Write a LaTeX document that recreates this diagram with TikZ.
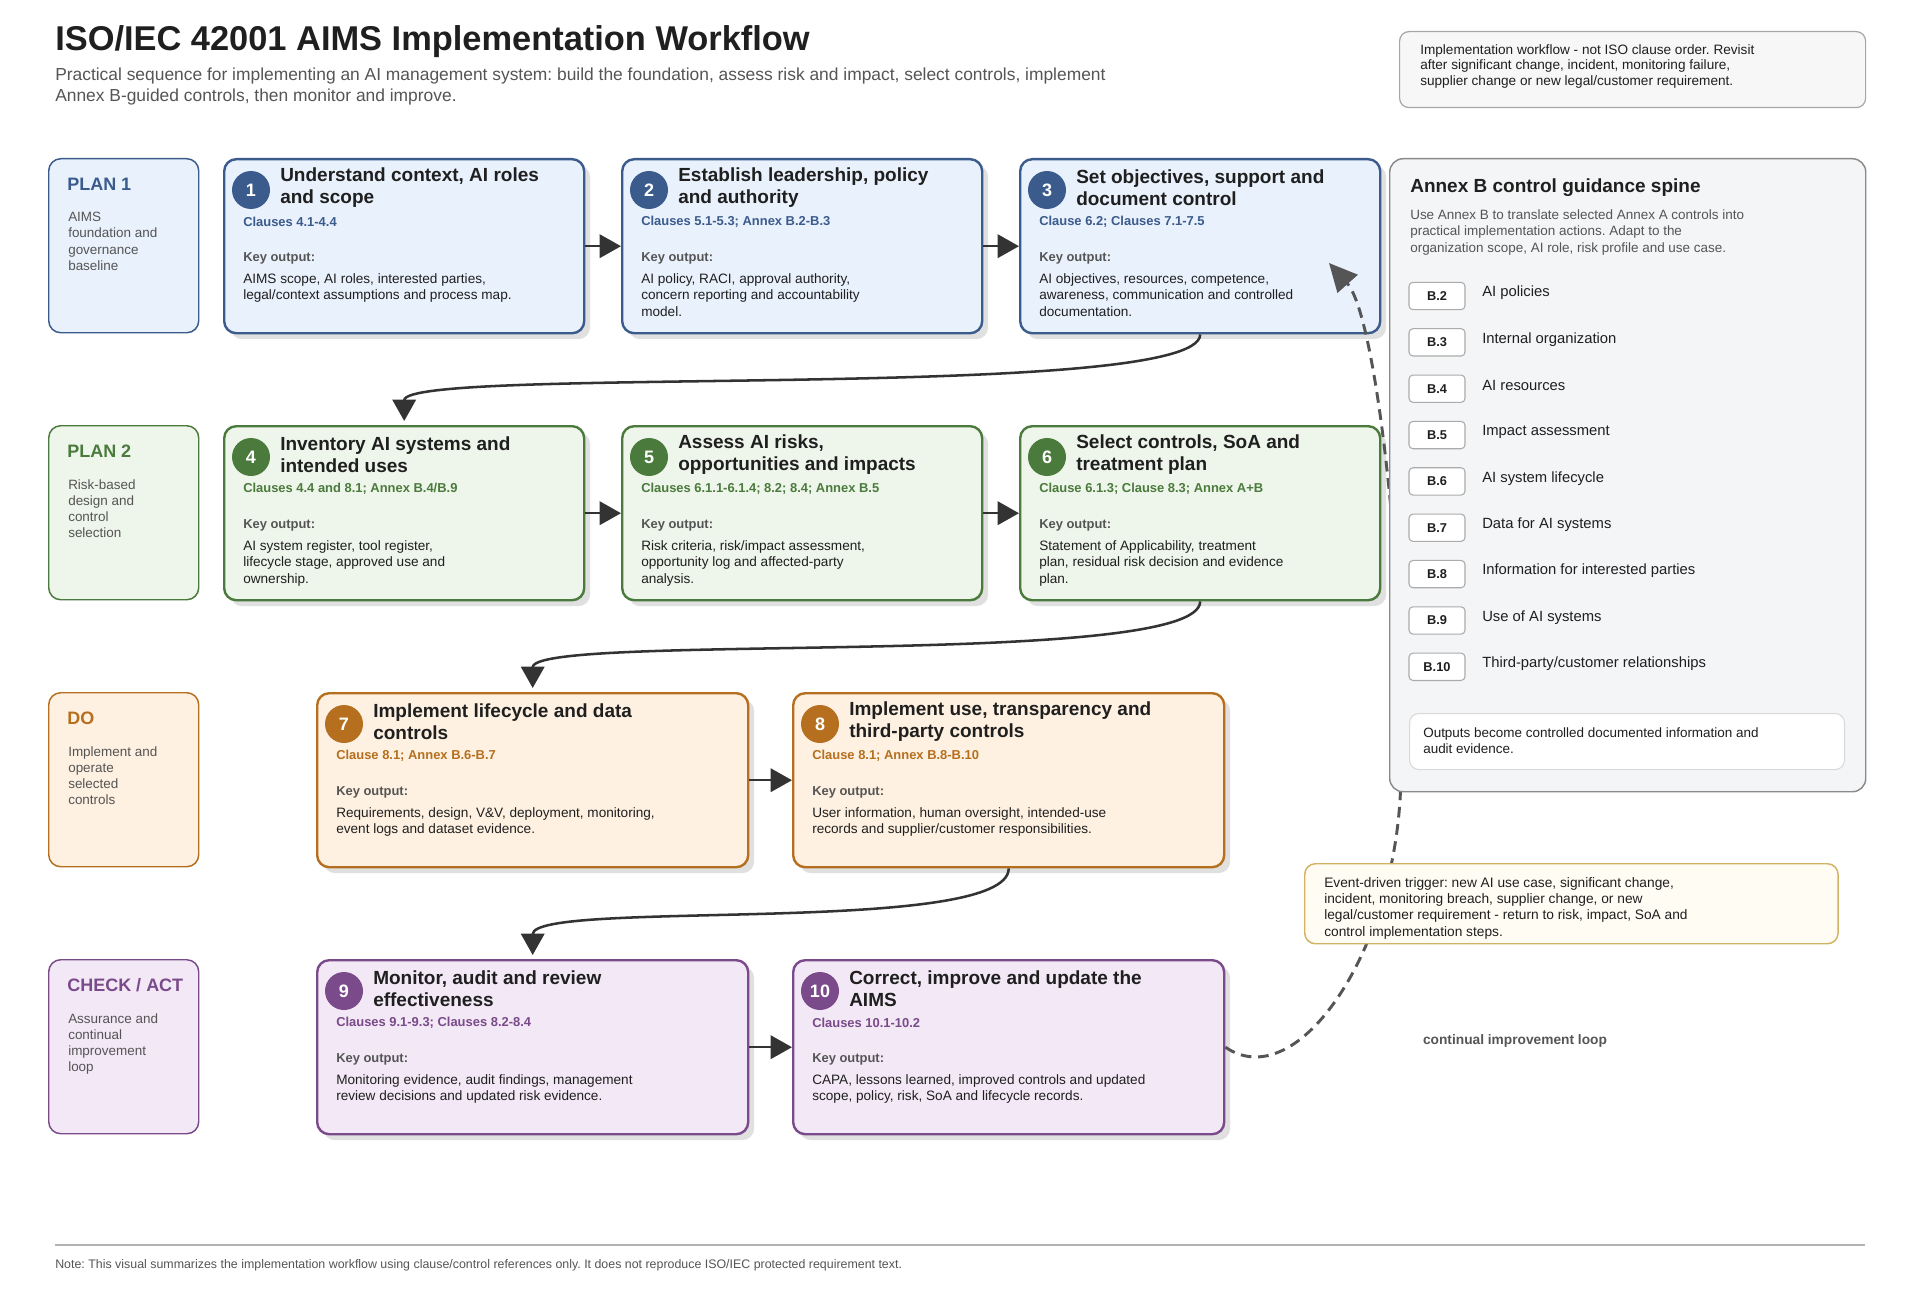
\documentclass[tikz,border=0pt]{standalone}
\usepackage{fontspec}
\setmainfont{Liberation Sans}
\frenchspacing
\usetikzlibrary{arrows.meta,calc,shadows}
\definecolor{bluedk}{HTML}{3B5B8C}
\definecolor{bluefill}{HTML}{E9F1FD}
\definecolor{greendk}{HTML}{4B7B3C}
\definecolor{greenfill}{HTML}{EEF5EA}
\definecolor{orangedk}{HTML}{B56F1F}
\definecolor{orangefill}{HTML}{FEF1E1}
\definecolor{purpledk}{HTML}{7A4A8A}
\definecolor{purplefill}{HTML}{F3E8F6}
\definecolor{ink}{HTML}{1F1F1F}
\definecolor{subc}{HTML}{555555}
\definecolor{arrowc}{HTML}{333333}
\definecolor{panelfill}{HTML}{F4F5F7}
\definecolor{panelline}{HTML}{8A8A8A}
\definecolor{evfill}{HTML}{FFFCF3}
\definecolor{evline}{HTML}{D2B364}
\tikzset{
  sbox/.style={rounded corners=9pt, line width=1.8pt, minimum height=130.5pt, inner sep=0pt,
    drop shadow={shadow xshift=4.5pt, shadow yshift=-4.5pt, fill=black!12, opacity=1}},
  pbox/.style={rounded corners=9pt, line width=1.1pt, minimum width=112.5pt, minimum height=130.5pt, anchor=north west, inner sep=0pt},
  numc/.style={circle, minimum size=28.5pt, inner sep=0pt, text=white, font=\bfseries\fontsize{13.5}{14}\selectfont},
  stitle/.style={inner sep=0pt, align=left, text=ink, font=\bfseries\fontsize{14.25}{16.5}\selectfont},
  sclause/.style={inner sep=0pt, font=\bfseries\fontsize{9.7}{11}\selectfont},
  skey/.style={inner sep=0pt, text=subc, font=\bfseries\fontsize{9.7}{11}\selectfont},
  sbody/.style={inner sep=0pt, align=left, text=ink, font=\fontsize{10.2}{12.4}\selectfont},
  ptitle/.style={inner sep=0pt, font=\bfseries\fontsize{13.5}{15}\selectfont},
  pdesc/.style={inner sep=0pt, align=left, text=subc, font=\fontsize{10.1}{12.2}\selectfont},
  flow/.style={draw=arrowc, line width=1.9pt, -{Triangle[length=16pt,width=17.5pt]}},
  loopline/.style={draw=subc, line width=2.2pt, dash pattern=on 8pt off 5pt, -{Triangle[length=21pt,width=20pt]}},
  badge/.style={draw=black!33, fill=white, rounded corners=3pt, line width=0.8pt, minimum width=42pt, minimum height=20.5pt, inner sep=0pt, font=\bfseries\fontsize{9.6}{11}\selectfont, text=ink},
  blabel/.style={inner sep=0pt, anchor=west, text=ink, font=\fontsize{11.1}{13}\selectfont},
  plain/.style={inner sep=0pt, align=left, anchor=north west},
}
% name, x, y, width, colour, number, title, clause, output
\newcommand\StepBox[9]{%
  \node[sbox, draw=#5dk, fill=#5fill, minimum width=#4*0.75pt, anchor=north west] (#1) at (#2,#3) {};
  \node[numc, fill=#5dk] (#1n) at ($(#1.north west)+(28,32)$) {#6};
  \node[stitle, anchor=west] (#1t) at ($(#1.north west)+(57,30)$) {#7};
  \node[sclause, text=#5dk, anchor=west] (#1c) at ($(#1.north west)+(20,63.5)$) {#8};
  \node[skey, anchor=west] (#1k) at ($(#1.north west)+(20,100)$) {Key output:};
  \node[sbody, anchor=north west] (#1o) at ($(#1.north west)+(20,115)$) {#9};
}
% name, y, colour, title, desc
\newcommand\PhaseBox[5]{%
  \node[pbox, draw=#3dk, fill=#3fill] (#1) at (48,#2) {};
  \node[ptitle, text=#3dk, anchor=west] (#1t) at ($(#1.north west)+(19,26.5)$) {#4};
  \node[pdesc, anchor=north west] (#1d) at ($(#1.north west)+(20,54)$) {#5};
}
\begin{document}
\begin{tikzpicture}[x=0.75pt, y=-0.75pt]
\useasboundingbox (0,0) rectangle (1920,1302);
\fill[white] (0,0) rectangle (1920,1302);

% header
\node[anchor=base west, inner sep=0pt, text=ink, font=\bfseries\fontsize{25.8}{30}\selectfont] (title) at (55,51) {ISO/IEC 42001 AIMS Implementation Workflow};
\node[plain, text=subc, font=\fontsize{13.05}{15.75}\selectfont] (subtitle) at (55,67.5) {Practical sequence for implementing an AI management system: build the foundation, assess risk and impact, select controls, implement\\Annex B-guided controls, then monitor and improve.};

\node[draw=black!35, fill=black!3, rounded corners=7pt, line width=0.9pt, minimum width=349.5pt, minimum height=57pt, anchor=north west, inner sep=0pt] (note) at (1399,31) {};
\node[plain, text=ink, font=\fontsize{10.2}{11.6}\selectfont] (notetxt) at (1420,44) {Implementation workflow - not ISO clause order. Revisit\\after significant change, incident, monitoring failure,\\supplier change or new legal/customer requirement.};

% phase boxes
\PhaseBox{p1}{158}{blue}{PLAN 1}{AIMS\\foundation and\\governance\\baseline}
\PhaseBox{p2}{425}{green}{PLAN 2}{Risk-based\\design and\\control\\selection}
\PhaseBox{p3}{692}{orange}{DO}{Implement and\\operate\\selected\\controls}
\PhaseBox{p4}{959}{purple}{CHECK / ACT}{Assurance and\\continual\\improvement\\loop}

% step boxes
\StepBox{s1}{223}{158}{360}{blue}{1}{Understand context, AI roles\\and scope}{Clauses 4.1-4.4}{AIMS scope, AI roles, interested parties,\\legal/context assumptions and process map.}
\StepBox{s2}{621}{158}{360}{blue}{2}{Establish leadership, policy\\and authority}{Clauses 5.1-5.3; Annex B.2-B.3}{AI policy, RACI, approval authority,\\concern reporting and accountability\\model.}
\StepBox{s3}{1019}{158}{360}{blue}{3}{Set objectives, support and\\document control}{Clause 6.2; Clauses 7.1-7.5}{AI objectives, resources, competence,\\awareness, communication and controlled\\documentation.}
\StepBox{s4}{223}{425}{360}{green}{4}{Inventory AI systems and\\intended uses}{Clauses 4.4 and 8.1; Annex B.4/B.9}{AI system register, tool register,\\lifecycle stage, approved use and\\ownership.}
\StepBox{s5}{621}{425}{360}{green}{5}{Assess AI risks,\\opportunities and impacts}{Clauses 6.1.1-6.1.4; 8.2; 8.4; Annex B.5}{Risk criteria, risk/impact assessment,\\opportunity log and affected-party\\analysis.}
\StepBox{s6}{1019}{425}{360}{green}{6}{Select controls, SoA and\\treatment plan}{Clause 6.1.3; Clause 8.3; Annex A+B}{Statement of Applicability, treatment\\plan, residual risk decision and evidence\\plan.}
\StepBox{s7}{316}{692}{431}{orange}{7}{Implement lifecycle and data\\controls}{Clause 8.1; Annex B.6-B.7}{Requirements, design, V\&V, deployment, monitoring,\\event logs and dataset evidence.}
\StepBox{s8}{792}{692}{431}{orange}{8}{Implement use, transparency and\\third-party controls}{Clause 8.1; Annex B.8-B.10}{User information, human oversight, intended-use\\records and supplier/customer responsibilities.}
\StepBox{s9}{316}{959}{431}{purple}{9}{Monitor, audit and review\\effectiveness}{Clauses 9.1-9.3; Clauses 8.2-8.4}{Monitoring evidence, audit findings, management\\review decisions and updated risk evidence.}
\StepBox{s10}{792}{959}{431}{purple}{10}{Correct, improve and update the\\AIMS}{Clauses 10.1-10.2}{CAPA, lessons learned, improved controls and updated\\scope, policy, risk, SoA and lifecycle records.}

% connectors
\draw[flow] (s1) -- (s2);
\draw[flow] (s2) -- (s3);
\draw[flow] (s4) -- (s5);
\draw[flow] (s5) -- (s6);
\draw[flow] (s7) -- (s8);
\draw[flow] (s9) -- (s10);
\draw[flow, shorten >=3pt] (s3.south) .. controls +(0,68) and +(0,-60) .. (s4.north);
\draw[flow, shorten >=3pt] (s6.south) .. controls +(0,68) and +(0,-60) .. (s7.north);
\draw[flow, shorten >=3pt] (s8.south) .. controls +(0,68) and +(0,-60) .. (s9.north);

% improvement loop
\coordinate (looptip) at (1329,263);
\coordinate (loopmid) at (1400,800);
\draw[loopline] (s10.east) .. controls (1295,1095) and (1390,960) .. (loopmid) .. controls (1410,640) and (1380,320) .. (looptip);

% annex panel
\node[draw=panelline, fill=panelfill, rounded corners=10pt, line width=1.1pt, minimum width=357pt, minimum height=474.75pt, anchor=north west, inner sep=0pt] (panel) at (1389,158) {};
\node[anchor=west, inner sep=0pt, text=ink, font=\bfseries\fontsize{14.25}{16}\selectfont] (ptitle) at (1410,187.5) {Annex B control guidance spine};
\node[plain, text=subc, font=\fontsize{10.1}{12.4}\selectfont] (pdesc) at (1410,209) {Use Annex B to translate selected Annex A controls into\\practical implementation actions. Adapt to the\\organization scope, AI role, risk profile and use case.};
\foreach \b/\lab [count=\i from 0] in {2/{AI policies},3/{Internal organization},4/{AI resources},5/{Impact assessment},6/{AI system lifecycle},7/{Data for AI systems},8/{Information for interested parties},9/{Use of AI systems},10/{Third-party/customer relationships}}{
  \node[badge] (b\b) at (1437,{296+46.35*\i}) {B.\b};
  \node[blabel] (bl\b) at (1482,{293+46.35*\i}) {\lab};
}
\node[draw=black!15, fill=white, rounded corners=7pt, line width=0.8pt, minimum width=326.25pt, minimum height=42pt, anchor=north west, inner sep=0pt] (obox) at (1409,713) {};
\node[plain, text=ink, font=\fontsize{10.1}{12.4}\selectfont] (oboxtxt) at (1423,727) {Outputs become controlled documented information and\\audit evidence.};

% event trigger
\node[draw=evline, fill=evfill, rounded corners=8pt, line width=1.1pt, minimum width=400pt, minimum height=60pt, anchor=north west, inner sep=0pt] (event) at (1304,863) {};
\node[plain, text=ink, font=\fontsize{10.3}{12.2}\selectfont] (eventtxt) at (1324,877) {Event-driven trigger: new AI use case, significant change,\\incident, monitoring breach, supplier change, or new\\legal/customer requirement - return to risk, impact, SoA and\\control implementation steps.};

\node[inner sep=0pt, text=subc, font=\bfseries\fontsize{10.3}{12}\selectfont] (looplbl) at (1515,1041) {continual improvement loop};

% footer
\coordinate (fl) at (55,1245);
\coordinate (fr) at (1865,1245);
\draw[black!30, line width=0.9pt] (fl) -- (fr);
\node[anchor=west, inner sep=0pt, text=subc, font=\fontsize{9.3}{11}\selectfont] (foot) at (55,1265) {Note: This visual summarizes the implementation workflow using clause/control references only. It does not reproduce ISO/IEC protected requirement text.};
\end{tikzpicture}
\end{document}
